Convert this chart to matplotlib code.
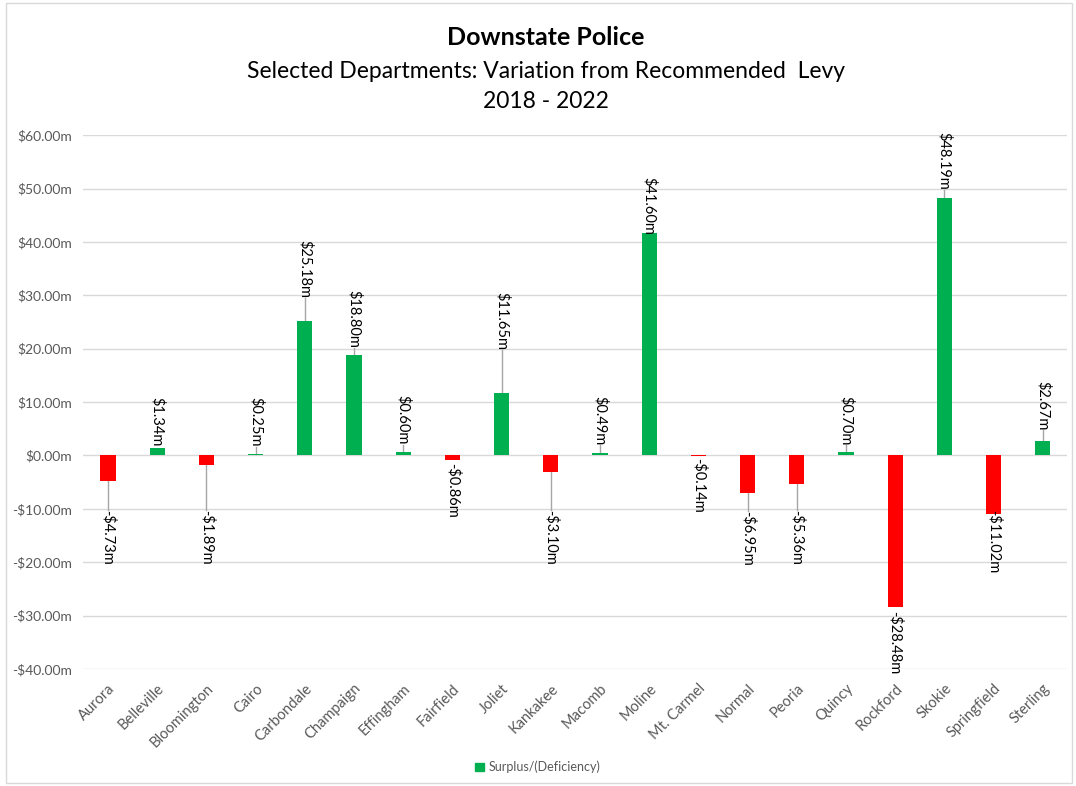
import numpy as np
import matplotlib.pyplot as plt
from matplotlib.patches import Rectangle

cities = ['Aurora', 'Belleville', 'Bloomington', 'Cairo', 'Carbondale', 'Champaign',
          'Effingham', 'Fairfield', 'Joliet', 'Kankakee', 'Macomb', 'Moline',
          'Mt. Carmel', 'Normal', 'Peoria', 'Quincy', 'Rockford', 'Skokie',
          'Springfield', 'Sterling']
values = [-4.73, 1.34, -1.89, 0.25, 25.18, 18.80, 0.60, -0.86, 11.65, -3.10,
          0.49, 41.60, -0.14, -6.95, -5.36, 0.70, -28.48, 48.19, -11.02, 2.67]
# where Excel placed each data label (centre, in $m)
label_pos = [-15.3, 6.4, -15.3, 6.3, 34.9, 25.5, 6.6, -6.5, 25.2, -15.3,
             6.5, 46.7, -5.7, -15.5, -15.3, 6.5, -35.1, 55.1, -16.2, 9.4]
yticks = list(range(-40, 61, 10))

GREEN = '#00b050'
RED = '#ff0000'
GRAY = '#595959'

plt.rcParams['font.family'] = ['Lato', 'DejaVu Sans']

fig = plt.figure(figsize=(10.76, 7.86), dpi=100)
fig.patches.append(Rectangle((0.006, 0.004), 0.99, 0.992, transform=fig.transFigure,
                             fill=False, edgecolor='#d9d9d9', lw=1))
ax = fig.add_axes([0.0775, 0.149, 0.9145, 0.679])

x = np.arange(len(cities))
colors = [GREEN if v >= 0 else RED for v in values]
ax.bar(x, values, width=0.31, color=colors, zorder=3)

ax.set_xlim(-0.5, len(cities) - 0.5)
ax.set_ylim(-40, 60)
ax.set_yticks(yticks)
ax.set_yticklabels(['-$%.2fm' % abs(t) if t < 0 else '$%.2fm' % t for t in yticks],
                   fontsize=10, color=GRAY)
ax.set_xticks(x)
ax.set_xticklabels(cities, rotation=45, ha='right', rotation_mode='anchor',
                   fontsize=10.5, color=GRAY)
ax.tick_params(length=0, pad=8)
ax.tick_params(axis='x', pad=9)
ax.grid(axis='y', color='#d9d9d9', lw=1, zorder=0)
for s in ax.spines.values():
    s.set_visible(False)

texts = []
for xi, v, lp in zip(x, values, label_pos):
    lbl = '-$%.2fm' % abs(v) if v < 0 else '$%.2fm' % v
    t = ax.text(xi, lp, lbl, rotation=270, ha='center', va='center',
                fontsize=10.5, color='black', zorder=5)
    texts.append(t)

# leader lines from bar end to label edge
fig.canvas.draw()
inv = ax.transData.inverted()
for xi, v, t in zip(x, values, texts):
    bb = t.get_window_extent()
    y0 = inv.transform((0, bb.y0))[1]
    y1 = inv.transform((0, bb.y1))[1]
    if v >= 0 and y0 - v > 1.0:
        ax.plot([xi, xi], [v, y0], color='#a6a6a6', lw=1, zorder=2)
    elif v < 0 and v - y1 > 1.0:
        ax.plot([xi, xi], [v, y1], color='#a6a6a6', lw=1, zorder=2)

fig.text(0.507, 0.952, 'Downstate Police', ha='center', va='center',
         fontsize=18, fontweight='bold')
fig.text(0.507, 0.909, 'Selected Departments: Variation from Recommended  Levy',
         ha='center', va='center', fontsize=16.5)
fig.text(0.507, 0.871, '2018 - 2022', ha='center', va='center', fontsize=16.5)

ax.legend(handles=[Rectangle((0, 0), 1, 1, color=GREEN)], labels=['Surplus/(Deficiency)'],
          loc='center', bbox_to_anchor=(0.5, 0.024), bbox_transform=fig.transFigure,
          frameon=False, fontsize=9, handlelength=0.7, handleheight=0.7,
          handletextpad=0.4, labelcolor=GRAY)

fig.savefig('out.png', dpi=100)
